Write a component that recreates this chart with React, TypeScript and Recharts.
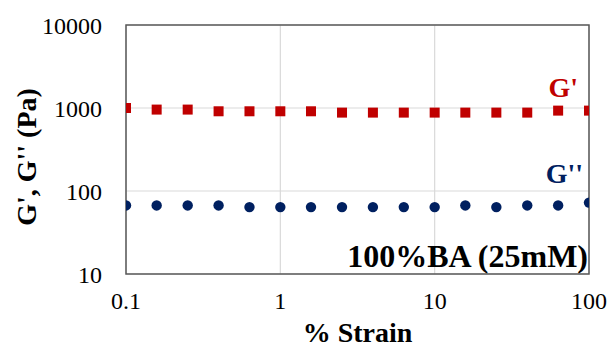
import {
  ScatterChart, Scatter, XAxis, YAxis, CartesianGrid, ReferenceArea, Label,
} from 'recharts'

const strain = [0.1, 0.158, 0.251, 0.398, 0.631, 1, 1.58, 2.51, 3.98, 6.31, 10, 15.8, 25.1, 39.8, 63.1, 100]
const gPrime = [1000, 957, 957, 913, 913, 913, 913, 880, 880, 880, 880, 880, 880, 880, 930, 930]
const gDouble = [67, 67, 67, 67, 64, 64, 64, 64, 64, 64, 64, 67, 64, 67, 67, 72.5]
const xTicks = [0.1, 1, 10, 100]
const yTicks = [10, 100, 1000, 10000]

const storage = strain.map((x, i) => ({ x, y: gPrime[i] }))
const loss = strain.map((x, i) => ({ x, y: gDouble[i] }))

const FONT = '"Liberation Serif", "Times New Roman", serif'
const RED = '#C00000'
const BLUE = '#002060'

const Square = (p: { cx?: number; cy?: number }) => (
  <rect x={(p.cx ?? 0) - 5} y={(p.cy ?? 0) - 5} width={10} height={10} fill={RED} />
)
const Dot = (p: { cx?: number; cy?: number }) => (
  <circle cx={p.cx} cy={p.cy} r={5.2} fill={BLUE} />
)

export default function App() {
  return (
    <div style={{ position: 'absolute', left: 0, top: 0, width: 612, height: 347, background: '#fff' }}>
      <ScatterChart width={612} height={347} margin={{ top: 25, right: 23, left: 0, bottom: 0 }}>
        <CartesianGrid stroke="#d9d9d9" strokeWidth={1.2} />
        <XAxis
          type="number" dataKey="x" scale="log" domain={[0.1, 100]} ticks={xTicks}
          allowDataOverflow height={73}
          axisLine={false} tickLine={false} tickMargin={12}
          tick={{ fill: '#000', fontSize: 24, fontFamily: FONT }}
          tickFormatter={(v: number) => String(v)}
        >
          <Label
            value="% Strain" position="insideBottom" offset={5}
            style={{ fill: '#000', fontSize: 28, fontWeight: 700, fontFamily: FONT }}
          />
        </XAxis>
        <YAxis
          type="number" dataKey="y" scale="log" domain={[10, 10000]} ticks={yTicks}
          allowDataOverflow width={126}
          axisLine={false} tickLine={false} tickMargin={18}
          tick={{ fill: '#000', fontSize: 24, fontFamily: FONT }}
        >
          <Label
            content={() => (
              <text
                x={0} y={0} transform="translate(36,157) rotate(-90)" textAnchor="middle"
                style={{ fill: '#000', fontSize: 28, fontWeight: 700, fontFamily: FONT }}
              >G', G'' (Pa)</text>
            )}
          />
        </YAxis>
        <ReferenceArea
          x1={0.1} x2={100} y1={10} y2={10000}
          fill="none" fillOpacity={0} stroke="#595959" strokeWidth={1.5}
        />
        <Scatter data={storage} fill={RED} shape={Square} legendType="none" isAnimationActive={false} />
        <Scatter data={loss} fill={BLUE} shape={Dot} legendType="none" isAnimationActive={false} />
        <text x={578} y={97} textAnchor="end" style={{ fill: RED, fontSize: 28, fontWeight: 700, fontFamily: FONT }}>G'</text>
        <text x={583} y={183} textAnchor="end" style={{ fill: BLUE, fontSize: 28, fontWeight: 700, fontFamily: FONT }}>G''</text>
        <text x={588} y={267} textAnchor="end" style={{ fill: '#000', fontSize: 32, fontWeight: 700, fontFamily: FONT }}>100%BA (25mM)</text>
      </ScatterChart>
    </div>
  )
}
